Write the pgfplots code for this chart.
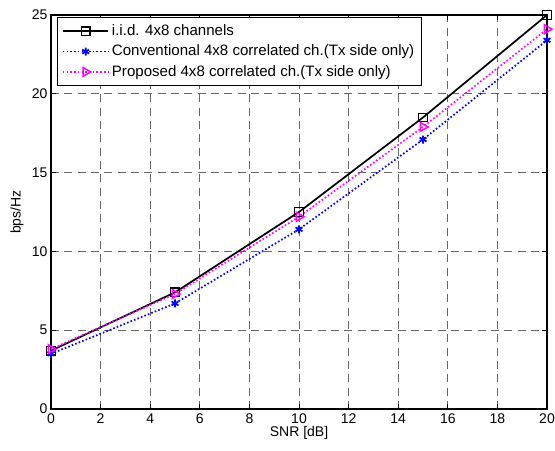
\documentclass[border=0pt]{standalone}
\usepackage{pgfplots}
\pgfplotsset{compat=1.18}
\usepackage{fontspec}
\setmainfont{Liberation Sans}
\definecolor{mmag}{rgb}{1,0,1}
\definecolor{mblue}{rgb}{0,0,1}
\begin{document}
\fontsize{10.5}{12}\selectfont
\begin{tikzpicture}
\begin{axis}[
  scale only axis,
  width=372pt, height=295.5pt,
  xmin=0, xmax=20, ymin=0, ymax=25,
  xtick={0,2,...,20}, ytick={0,5,...,25},
  grid=major,
  major grid style={dash pattern=on 6pt off 4pt, black!60, line width=0.7pt},
  tick align=inside,
  major tick length=4pt,
  tick style={black, line width=0.6pt},
  axis line style={black, line width=0.8pt},
  xlabel={SNR [dB]}, ylabel={bps/Hz},
  xlabel style={yshift=5pt},
  ylabel style={yshift=-1pt},
  /pgf/number format/assume math mode=true,
  tick label style={font=\fontsize{10.5}{12}\selectfont},
  xticklabel style={yshift=0pt},
  yticklabel style={xshift=1pt},
  label style={font=\fontsize{10.5}{12}\selectfont},
  legend style={at={(0.012,0.995)}, anchor=north west, draw=black, line width=0.6pt,
    font=\fontsize{11.3}{13}\selectfont, row sep=1.5pt, inner sep=3.5pt, cells={anchor=west}},
  legend cell align=left,
  legend image code/.code={
    \draw[mark repeat=2,mark phase=2] plot coordinates {(0cm,0cm) (0.6cm,0cm) (1.2cm,0cm)};
  },
]
\addplot[black, line width=1.3pt, mark=square, mark size=3.2pt, mark options={solid, line width=1pt}]
  coordinates {(0,3.7) (5,7.4) (10,12.5) (15,18.5) (20,25.0)};
\addlegendentry{i.i.d. 4x8 channels}
\addplot[mblue, line width=1.3pt, dash pattern=on 1.2pt off 1.6pt, mark=asterisk, mark size=3pt, mark options={solid, line width=1.3pt}]
  coordinates {(0,3.5) (5,6.7) (10,11.4) (15,17.1) (20,23.4)};
\addlegendentry{Conventional 4x8 correlated ch.(Tx side only)}
\addplot[mmag, line width=1.3pt, dash pattern=on 1.2pt off 1.6pt, mark=triangle, mark size=3.8pt, mark options={solid, rotate=-90, line width=1.1pt}]
  coordinates {(0,3.8) (5,7.3) (10,12.2) (15,17.9) (20,24.1)};
\addlegendentry{Proposed 4x8 correlated ch.(Tx side only)}
\end{axis}
\pgfresetboundingbox
\path (-38.25pt,-30.75pt) rectangle (378pt,306.75pt);
\end{tikzpicture}
\end{document}
